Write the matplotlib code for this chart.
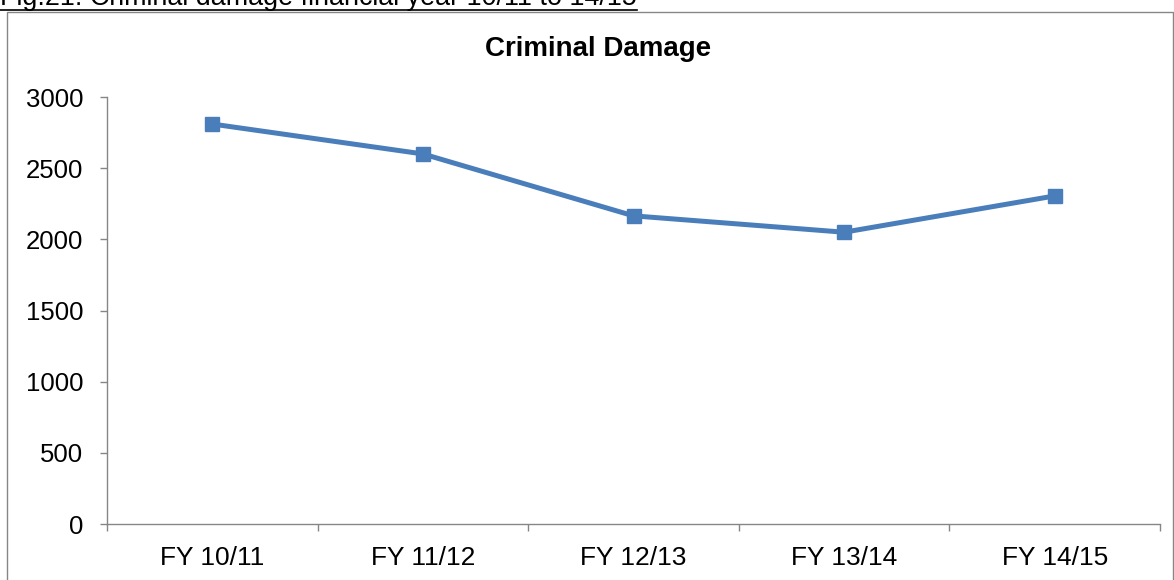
import matplotlib
matplotlib.use("Agg")
import matplotlib.pyplot as plt
from matplotlib.patches import Rectangle
from matplotlib.lines import Line2D

# Criminal damage offences per financial year
years = ["FY 10/11", "FY 11/12", "FY 12/13", "FY 13/14", "FY 14/15"]
offences = [2810, 2600, 2165, 2050, 2305]
y_ticks = [0, 500, 1000, 1500, 2000, 2500, 3000]

plt.rcParams["font.family"] = ["Liberation Sans", "DejaVu Sans"]

W, H = 1174, 580
fig = plt.figure(figsize=(W / 100, H / 100), dpi=100)
fig.patch.set_facecolor("white")

# chart border (runs past the bottom edge)
fig.patches.append(Rectangle((7 / W, -0.2), (1173 - 7) / W, (H - 12) / H + 0.2,
                             transform=fig.transFigure, fill=False,
                             edgecolor="#868686", linewidth=1.0, clip_on=False))

# caption above the chart, underlined
cap = fig.text(0.0, (H - 5) / H, "Fig.21: Criminal damage financial year 10/11 to 14/15",
               fontsize=19.4, ha="left", va="baseline", color="black")
fig.canvas.draw()
bb = cap.get_window_extent(fig.canvas.get_renderer())
fig.lines.append(Line2D([bb.x0 / W, bb.x1 / W], [(H - 9.5) / H, (H - 9.5) / H],
                        transform=fig.transFigure, color="black", linewidth=1.2))

ax = fig.add_axes([107 / W, (H - 524) / H, (1160 - 107) / W, (524 - 97) / H])
x = list(range(1, len(years) + 1))
ax.plot(x, offences, color="#4A7EBB", linewidth=3.6, marker="s", markersize=10.5,
        markerfacecolor="#4A7EBB", markeredgecolor="#4A7EBB", solid_joinstyle="round")

ax.set_xlim(0.5, len(years) + 0.5)
ax.set_ylim(0, 3000)
ax.set_yticks(y_ticks)
ax.set_yticklabels([str(v) for v in y_ticks])
ax.set_xticks(x)
ax.set_xticklabels(years)
ax.set_xticks([i + 0.5 for i in range(0, len(years) + 1)], minor=True)

for s in ["top", "right"]:
    ax.spines[s].set_visible(False)
for s in ["left", "bottom"]:
    ax.spines[s].set_color("#868686")
    ax.spines[s].set_linewidth(1.0)

ax.tick_params(axis="y", direction="out", length=5, width=1, color="#868686",
               labelsize=18.5, pad=12, labelcolor="black")
ax.tick_params(axis="x", which="major", length=0, labelsize=19, pad=16, labelcolor="black")
ax.tick_params(axis="x", which="minor", direction="out", length=5, width=1, color="#868686")

fig.text(598 / W, (H - 49) / H, "Criminal Damage", fontsize=20, fontweight="bold",
         ha="center", va="center", color="black")

fig.savefig("out.png", dpi=100, facecolor="white")
